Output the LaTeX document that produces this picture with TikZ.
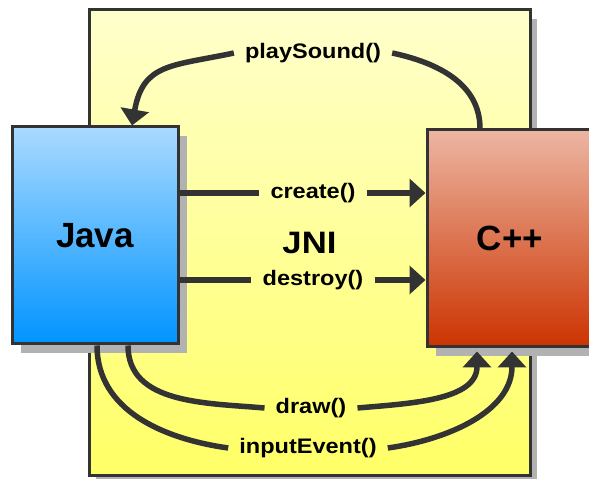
\documentclass[tikz,border=0pt]{standalone}
\usepackage{fontspec}
\setmainfont{Liberation Sans}
\newfontfamily\callfont[FakeStretch=1.12]{Liberation Sans}
\usetikzlibrary{arrows.meta,shadows}
\usepackage{xcolor}

\definecolor{linegray}{HTML}{333333}
\definecolor{javatop}{HTML}{AADAFF}
\definecolor{javabot}{HTML}{0094FF}
\definecolor{cpptop}{HTML}{ECB6A2}
\definecolor{cppbot}{HTML}{CC3300}
\definecolor{jnitop}{HTML}{FFFFCC}
\definecolor{jnibot}{HTML}{FFFF66}

\tikzset{
    box/.style={draw=linegray, line width=3pt, minimum width=166pt, minimum height=217pt,
        font=\bfseries\fontsize{35}{35}\selectfont,
        drop shadow={fill=black!30, opacity=1, shadow xshift=9pt, shadow yshift=-9pt}},
    frame/.style={draw=linegray, line width=3pt, minimum width=441pt, minimum height=466pt,
        top color=jnitop, bottom color=jnibot,
        font=\callfont\bfseries\fontsize{31}{31}\selectfont,
        drop shadow={fill=black!30, opacity=1, shadow xshift=7pt, shadow yshift=-9pt}},
    call/.style={font=\callfont\bfseries\fontsize{21}{21}\selectfont, inner xsep=11pt, inner ysep=0pt},
    link/.style={draw=linegray, line width=5.5pt, -{Triangle[length=16pt,width=28pt]}}
}

\begin{document}
\begin{tikzpicture}[x=1pt, y=1pt]
        % Sizes
        \pgfmathsetmacro{\inner}{33}
        \pgfmathsetmacro{\outer}{2}
        \useasboundingbox (0,0) rectangle (589,479);
        \clip (0,0) rectangle (589,479);

        % boxes
        \node[frame] (jni) at (309.5,236) {JNI};
        \node[box, top color=javatop, bottom color=javabot] (java) at (95,243.5) {Java};
        \node[box, top color=cpptop, bottom color=cppbot] (cpp) at (510,240.5) {C++};

        % labels
        \node[call] (create) at (313,286) {create()};
        \node[call] (destroy) at (313,199) {destroy()};
        \node[call] (play) at (313,426) {playSound()};
        \node[call] (drawcall) at (311,71) {draw()};
        \node[call] (input) at (308,31) {inputEvent()};

        % calls
        \draw[link] (java.east |- create) -- (create) (create) -- (cpp.west |- create);
        \draw[link] (java.east |- destroy) -- (destroy) (destroy) -- (cpp.west |- destroy);
        \draw[link] ([xshift=-30pt]cpp.north) to[out=90, in=-12] (play.east)
            (play.west) to[out=192, in=80, looseness=1.3] ([xshift=37pt]java.north);
        \draw[link, shorten >=3pt] ([xshift=\inner pt]java.south) to[out=-90, in=175] (drawcall.west)
            (drawcall.east) to[out=5, in=-90] ([xshift=-\inner pt]cpp.south);
        \draw[link, shorten >=3pt] ([xshift=\outer pt]java.south) to[out=-90, in=172] (input.west)
            (input.east) to[out=8, in=-90] ([xshift=\outer pt]cpp.south);
\end{tikzpicture}
\end{document}
